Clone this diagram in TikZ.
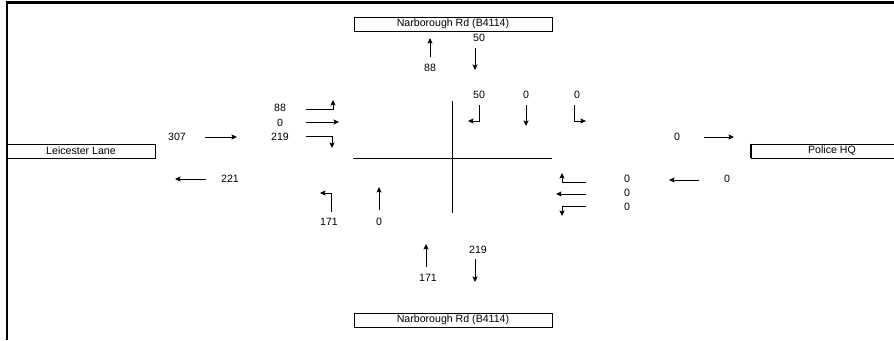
\documentclass[tikz,border=0pt]{standalone}
\usepackage{fontspec}
\setmainfont{Liberation Sans}
\usepackage{tikz}
\usetikzlibrary{arrows.meta}

\tikzset{
  road/.style={draw,line width=0.8pt,minimum height=14pt,inner sep=0pt},
  flow/.style={inner sep=0pt}
}

\begin{document}
\begin{tikzpicture}[x=1pt,y=-1pt,>={Stealth[length=5.5pt,width=5pt,inset=1pt]},font=\fontsize{10.6}{12}\selectfont,line width=0.8pt]
\clip (0,0) rectangle (894,340);
% frame
\draw[line width=2.5pt] (6.8,340) -- (6.8,2.7) -- (894,2.7);
% road names
\node[road,minimum width=198pt] (nTop) at (453,24) {Narborough Rd (B4114)};
\node[road,minimum width=198pt] (nBot) at (453,320) {Narborough Rd (B4114)};
\node[road,minimum width=148pt] (leic) at (81,151) {Leicester Lane};
\node[road,minimum width=162pt] (police) at (832,151) {Police HQ};
\draw[line width=2pt] (police.north west) -- (police.south west);
% junction
\draw (353,158) -- (552,158);
\draw (452,101) -- (452,213);
% north arm
\node[flow] (nOut) at (430,68) {88};
\node[flow] (nIn) at (479,38) {50};
\draw[->] (430,57) -- (430,38);
\draw[->] (475,48) -- (475,70);
\node[flow] (nL) at (479,95) {50};
\node[flow] (nA) at (526,95) {0};
\node[flow] (nR) at (577,95) {0};
\draw[->] (479,105) -- (479,121) -- (468,121);
\draw[->] (526,105) -- (526,126);
\draw[->] (574,105) -- (574,121) -- (586,121);
% west arm
\node[flow] (wIn) at (177,137) {307};
\node[flow] (wOut) at (230,179) {221};
\draw[->] (205,137) -- (237,137);
\draw[->] (206,179) -- (175,179);
\node[flow] (wL) at (280,108) {88};
\node[flow] (wA) at (280,123) {0};
\node[flow] (wR) at (280,137) {219};
\draw[->] (306,109) -- (333,109) -- (333,100);
\draw[->] (306,122) -- (339,122);
\draw[->] (306,136) -- (332,136) -- (332,148);
% east arm
\node[flow] (eOut) at (677,137) {0};
\node[flow] (eIn) at (727,179) {0};
\draw[->] (704,137) -- (734,137);
\draw[->] (699,180) -- (669,180);
\node[flow] (eR) at (627,179) {0};
\node[flow] (eA) at (627,193) {0};
\node[flow] (eL) at (627,207) {0};
\draw[->] (586,182) -- (562,182) -- (562,173);
\draw[->] (586,194) -- (556,194);
\draw[->] (586,206) -- (562,206) -- (562,216);
% south arm
\node[flow] (sL) at (329,222) {171};
\node[flow] (sA) at (379,222) {0};
\draw[->] (331,212) -- (331,193) -- (320,193);
\draw[->] (379,210) -- (379,187);
\node[flow] (sIn) at (428,278) {171};
\node[flow] (sOut) at (478,250) {219};
\draw[->] (426,267) -- (426,244);
\draw[->] (475,259) -- (475,282);
\end{tikzpicture}
\end{document}
